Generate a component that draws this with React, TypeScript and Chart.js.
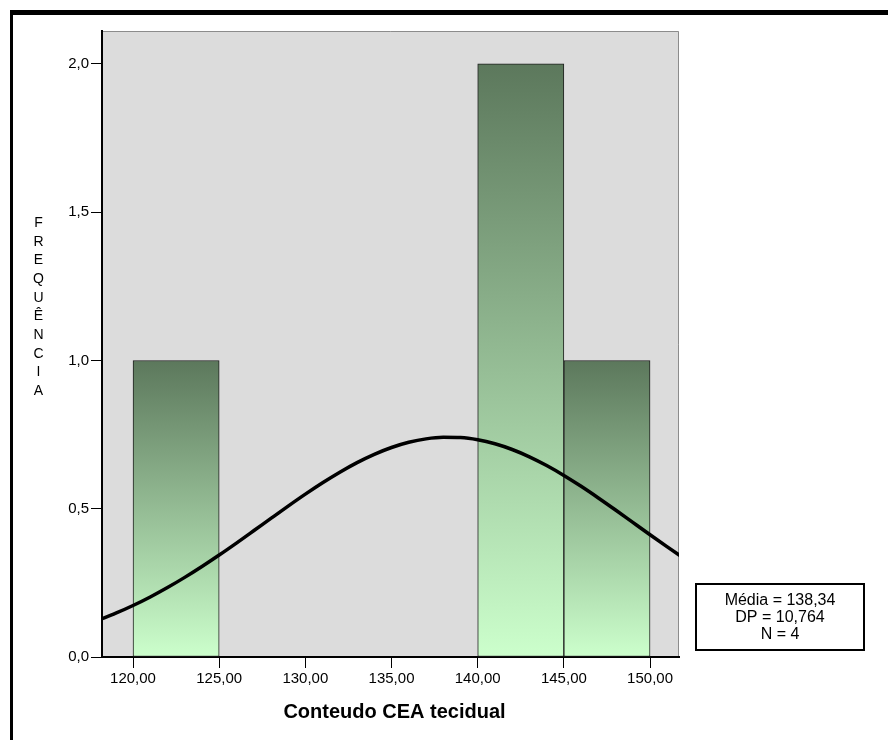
import React, { useEffect, useRef } from 'react';
import { Chart, registerables } from 'chart.js';

Chart.register(...registerables);

// ---- data ----
const BIN_CENTERS = [122.5, 127.5, 132.5, 137.5, 142.5, 147.5];
const FREQUENCIES = [1, 0, 0, 0, 2, 1];

// normal curve (x, frequency)
const CURVE_X = [118, 119, 120, 121, 122, 123, 124, 125, 126, 127, 128, 129, 130, 131, 132, 133, 134, 135, 136, 137, 138, 139, 140, 141, 142, 143, 144, 145, 146, 147, 148, 149, 150, 151, 152];
const CURVE_Y = [0.1243, 0.1476, 0.1737, 0.2025, 0.2342, 0.2685, 0.3052, 0.3439, 0.3842, 0.4256, 0.4673, 0.5087, 0.5491, 0.5875, 0.6232, 0.6555, 0.6834, 0.7064, 0.7240, 0.7356, 0.7409, 0.7399, 0.7325, 0.7190, 0.6997, 0.6750, 0.6456, 0.6122, 0.5755, 0.5363, 0.4956, 0.4539, 0.4123, 0.3712, 0.3314];

const STATS_LINES = ['Média = 138,34', 'DP = 10,764', 'N = 4'];
const X_TITLE = 'Conteudo CEA tecidual';
const Y_TITLE = 'FREQUÊNCIA';

const X_MIN = 118.2;
const X_MAX = 151.68;
const X_STEP = 5;
const Y_MIN = 0;
const Y_MAX = 2.111;
const Y_STEP = 0.5;

const FONT = '"Liberation Sans", Arial, sans-serif';
const TOP_COLOR = [92, 120, 92];
const BOTTOM_COLOR = [204, 255, 204];

const rgb = (c: number[]) => `rgb(${c[0]},${c[1]},${c[2]})`;

const decorPlugin = {
  id: 'decor',
  beforeDraw(chart: any) {
    const { ctx, chartArea } = chart;
    ctx.save();
    ctx.fillStyle = '#dcdcdc';
    ctx.fillRect(chartArea.left, chartArea.top, chartArea.right - chartArea.left, chartArea.bottom - chartArea.top);
    ctx.strokeStyle = '#8c8c8c';
    ctx.lineWidth = 1;
    ctx.beginPath();
    ctx.moveTo(chartArea.left, chartArea.top + 0.5);
    ctx.lineTo(chartArea.right - 0.5, chartArea.top + 0.5);
    ctx.lineTo(chartArea.right - 0.5, chartArea.bottom);
    ctx.stroke();
    ctx.restore();
  },
  afterDraw(chart: any) {
    const { ctx, chartArea } = chart;
    ctx.save();
    // outer frame (top and left)
    ctx.fillStyle = '#000';
    ctx.fillRect(10, 10, chart.width - 10, 5);
    ctx.fillRect(10, 10, 3, chart.height - 10);

    // x title
    ctx.fillStyle = '#000';
    ctx.font = `bold 20px ${FONT}`;
    ctx.textAlign = 'center';
    ctx.textBaseline = 'middle';
    ctx.fillText(X_TITLE, (chartArea.left + chartArea.right) / 2 + 4, 712);

    // y title, stacked letters
    ctx.font = `14px ${FONT}`;
    const letters = Array.from(Y_TITLE);
    letters.forEach((ch, i) => {
      ctx.fillText(ch, 38.5, 223 + i * 18.67);
    });

    // stats box
    const bx = 696, by = 584, bw = 168, bh = 66;
    ctx.fillStyle = '#fff';
    ctx.fillRect(bx, by, bw, bh);
    ctx.strokeStyle = '#000';
    ctx.lineWidth = 2;
    ctx.strokeRect(bx, by, bw, bh);
    ctx.fillStyle = '#000';
    ctx.font = `16px ${FONT}`;
    STATS_LINES.forEach((t, i) => {
      ctx.fillText(t, bx + bw / 2, 600.5 + i * 16.8);
    });
    ctx.restore();
  },
};

export default function App() {
  const ref = useRef<HTMLCanvasElement | null>(null);

  useEffect(() => {
    if (!ref.current) return;
    const barData = BIN_CENTERS.map((x, i) => ({ x, y: FREQUENCIES[i] }));
    const curveData = CURVE_X.map((x, i) => ({ x, y: CURVE_Y[i] }));

    const chart = new Chart(ref.current, {
      type: 'bar',
      data: {
        datasets: [
          {
            type: 'line',
            data: curveData,
            borderColor: '#000',
            borderWidth: 3.5,
            pointRadius: 0,
            cubicInterpolationMode: 'monotone',
            fill: false,
            order: 0,
            clip: 0,
          } as any,
          {
            type: 'bar',
            data: barData,
            order: 1,
            barPercentage: 1,
            categoryPercentage: 1,
            borderColor: '#1e1e1e',
            borderWidth: 1,
            borderSkipped: false,
            backgroundColor: (c: any) => {
              const ch = c.chart;
              if (!ch.chartArea || c.type !== 'data' || !c.parsed) return rgb(TOP_COLOR);
              const ys = ch.scales.y;
              const top = ys.getPixelForValue(c.parsed.y);
              const base = ys.getPixelForValue(0);
              if (base - top < 1) return rgb(BOTTOM_COLOR);
              const g = ch.ctx.createLinearGradient(0, top, 0, base);
              g.addColorStop(0, rgb(TOP_COLOR));
              g.addColorStop(1, rgb(BOTTOM_COLOR));
              return g;
            },
          } as any,
        ],
      },
      options: {
        responsive: false,
        animation: false,
        events: [],
        layout: { padding: { left: 0, right: 209, top: 31, bottom: 0 } },
        plugins: {
          legend: { display: false },
          tooltip: { enabled: false },
          title: { display: false },
        },
        scales: {
          x: {
            type: 'linear',
            min: X_MIN,
            max: X_MAX,
            offset: false,
            z: 1,
            grid: { display: true, drawOnChartArea: false, offset: false, color: '#000', lineWidth: 1, tickLength: 11 },
            border: { display: true, color: '#000', width: 2 },
            ticks: {
              stepSize: X_STEP,
              includeBounds: false,
              color: '#000',
              padding: 2,
              maxRotation: 0,
              autoSkip: false,
              font: { family: FONT, size: 15 },
              callback: (v: any) => Number(v).toFixed(2).replace('.', ','),
            },
            afterFit: (s: any) => { s.height = 83; },
          },
          y: {
            type: 'linear',
            min: Y_MIN,
            max: Y_MAX,
            z: 1,
            grid: { display: true, drawOnChartArea: false, color: '#000', lineWidth: 1, tickLength: 11 },
            border: { display: true, color: '#000', width: 2 },
            ticks: {
              stepSize: Y_STEP,
              includeBounds: false,
              color: '#000',
              padding: 2,
              font: { family: FONT, size: 15 },
              callback: (v: any) => Number(v).toFixed(1).replace('.', ','),
            },
            afterFit: (s: any) => { s.width = 102; },
          },
        },
      },
      plugins: [decorPlugin],
    });
    return () => chart.destroy();
  }, []);

  return (
    <div style={{ position: 'absolute', left: 0, top: 0, width: 888, height: 740, background: '#fff' }}>
      <canvas ref={ref} width={888} height={740} style={{ display: 'block', width: 888, height: 740 }} />
    </div>
  );
}
